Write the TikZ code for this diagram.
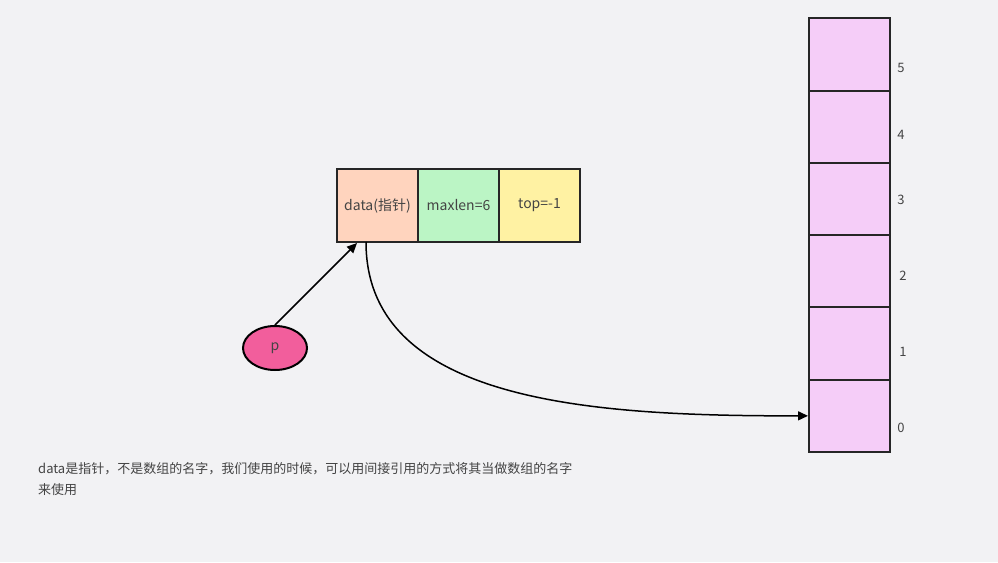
\documentclass[tikz,border=0pt]{standalone}
\usepackage{fontspec}
\setmainfont{Noto Sans CJK SC}
\usetikzlibrary{arrows.meta,shapes.geometric}
\definecolor{bg}{HTML}{F2F2F4}
\definecolor{txt}{HTML}{444444}
\definecolor{cdata}{HTML}{FFD4BE}
\definecolor{cmax}{HTML}{BBF5C5}
\definecolor{ctop}{HTML}{FFF2A3}
\definecolor{cell}{HTML}{F5CDF8}
\definecolor{cp}{HTML}{F25E9C}
\tikzset{
  fld/.style={draw=black!85, line width=2pt, minimum width=81pt, minimum height=73pt, inner sep=0pt, text=txt, font=\fontsize{14}{16}\selectfont},
  cellbox/.style={draw=black!85, line width=2pt, fill=cell, minimum width=81pt, minimum height=72.3pt, inner sep=0pt},
  idx/.style={text=txt, font=\fontsize{13}{15}\selectfont},
  conn/.style={line width=1.5pt, -{Triangle[length=10pt,width=9pt]}},
}
\begin{document}
\begin{tikzpicture}[x=1pt,y=-1pt]
\fill[bg] (0,0) rectangle (998,562);
\useasboundingbox (0,0) rectangle (998,562);
\node[fld, fill=cdata] (data) at (377.5,205.5) {data(指针)};
\node[fld, fill=cmax] (max) at (458.5,205.5) {maxlen=6};
\node[fld, fill=ctop] (top) at (539.5,205.5) {top=-1};
\foreach \i in {0,...,5}{
  \node[cellbox] (c\i) at (849.5,{415.85-72.3*\i}) {};
}
\node[idx] (l5) at (901,68) {5};
\node[idx] (l4) at (901,135) {4};
\node[idx] (l3) at (901,200) {3};
\node[idx] (l2) at (903,276) {2};
\node[idx] (l1) at (903,352) {1};
\node[idx] (l0) at (901,428) {0};
\node[ellipse, draw=black, line width=2pt, fill=cp, minimum width=64pt, minimum height=44pt, inner sep=0pt, text=txt, font=\fontsize{14}{16}\selectfont] (p) at (275,348) {p};
\coordinate (ta) at (357,243);
\coordinate (da) at (366,242);
\draw[conn] (p.north) -- (ta);
\draw[conn] (da) .. controls (366,405) and (600,416) .. (c0.west);
\node[anchor=north west, align=left, text=txt, font=\fontsize{13}{21}\selectfont, inner sep=0pt] (note) at (38,462) {data是指针，不是数组的名字，我们使用的时候，可以用间接引用的方式将其当做数组的名字\\来使用};
\end{tikzpicture}
\end{document}
